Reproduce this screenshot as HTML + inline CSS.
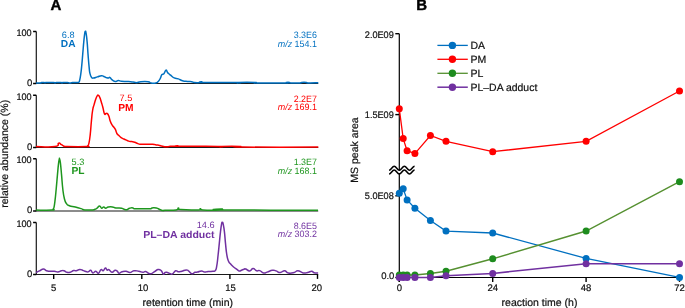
<!DOCTYPE html><html><head><meta charset="utf-8"><style>html,body{margin:0;padding:0;background:#fff;}svg{display:block;font-family:"Liberation Sans",sans-serif;text-rendering:geometricPrecision;}#w{will-change:transform;width:685px;height:308px;overflow:hidden;}</style></head><body>
<div id="w">
<svg width="685" height="308" viewBox="0 0 685 308">
<rect width="685" height="308" fill="#fff"/>
<text x="50.4" y="10.45" font-size="15" font-weight="bold" fill="#000" stroke="#000" stroke-width="0.4">A</text>
<text x="416.3" y="10.45" font-size="15" font-weight="bold" fill="#000" stroke="#000" stroke-width="0.4">B</text>
<path d="M36.3 31.45V83.50H318.2" fill="none" stroke="#1a1a1a" stroke-width="1.2"/>
<path d="M33.1 31.45H36.3M33.1 83.50H36.3" stroke="#000" stroke-width="1.5"/>
<text x="31.6" y="35.65" font-size="9.5" text-anchor="end" fill="#111" textLength="15.2" lengthAdjust="spacingAndGlyphs" stroke="#111" stroke-width="0.2">100</text>
<text x="32.2" y="85.80" font-size="9.5" text-anchor="end" fill="#111" stroke="#111" stroke-width="0.2">0</text>
<path d="M36.00 83.00 C37.20 83.00 39.03 83.13 40.50 83.00 C41.97 82.87 40.57 82.63 41.50 82.50 C42.43 82.37 43.07 82.39 44.00 82.50 C44.93 82.61 44.47 82.90 45.00 82.90 C45.53 82.90 43.73 82.61 46.00 82.50 C48.27 82.39 51.10 82.37 53.50 82.50 C55.90 82.63 54.20 83.00 55.00 83.00 C55.80 83.00 54.90 82.63 56.50 82.50 C58.10 82.37 59.53 82.37 61.00 82.50 C62.47 82.63 61.47 83.00 62.00 83.00 C62.53 83.00 61.53 82.63 63.00 82.50 C64.47 82.37 65.63 82.37 67.50 82.50 C69.37 82.63 68.67 83.00 70.00 83.00 C71.33 83.00 70.63 82.63 72.50 82.50 C74.37 82.37 75.37 82.55 77.00 82.50 C78.63 82.45 77.93 82.73 78.60 82.30 C79.27 81.87 78.94 82.93 79.50 80.90 C80.06 78.87 80.09 78.94 80.70 74.70 C81.31 70.46 81.24 70.71 81.80 65.00 C82.36 59.29 82.27 59.54 82.80 53.30 C83.33 47.06 83.29 46.85 83.80 41.60 C84.31 36.35 84.29 36.35 84.70 33.60 C85.11 30.85 84.98 31.35 85.35 31.30 C85.72 31.25 85.63 30.65 86.10 33.40 C86.57 36.15 86.57 35.79 87.10 41.60 C87.63 47.41 87.57 48.45 88.10 55.20 C88.63 61.95 88.59 61.97 89.10 66.90 C89.61 71.83 89.33 70.90 90.00 73.70 C90.67 76.50 90.67 76.25 91.60 77.40 C92.53 78.55 91.95 78.13 93.50 78.00 C95.05 77.87 95.32 77.51 97.40 76.90 C99.48 76.29 99.73 75.86 101.30 75.70 C102.87 75.54 101.99 75.79 103.30 76.30 C104.61 76.81 104.89 77.15 106.20 77.60 C107.51 78.05 107.21 78.05 108.20 78.00 C109.19 77.95 109.10 77.16 109.90 77.40 C110.70 77.64 110.43 78.10 111.20 78.90 C111.97 79.70 111.71 79.71 112.80 80.40 C113.89 81.09 113.81 81.45 115.30 81.50 C116.79 81.55 116.75 80.65 118.40 80.60 C120.05 80.55 119.31 81.06 121.50 81.30 C123.69 81.54 124.15 81.39 126.60 81.50 C129.05 81.61 128.54 81.49 130.70 81.70 C132.86 81.91 133.02 82.06 134.70 82.30 C136.38 82.54 135.35 82.76 137.00 82.60 C138.65 82.44 137.97 81.94 140.90 81.70 C143.83 81.46 145.28 81.35 148.00 81.70 C150.72 82.05 149.05 82.65 151.10 83.00 C153.15 83.35 153.81 83.40 155.70 83.00 C157.59 82.60 156.97 82.73 158.20 81.50 C159.43 80.27 159.34 80.19 160.30 78.40 C161.26 76.61 160.84 76.03 161.80 74.80 C162.76 73.57 162.81 75.03 163.90 73.80 C164.99 72.57 164.97 70.60 165.90 70.20 C166.83 69.80 166.68 71.42 167.40 72.30 C168.12 73.18 167.75 72.75 168.60 73.50 C169.45 74.25 169.11 73.93 170.60 75.10 C172.09 76.27 172.15 76.89 174.20 77.90 C176.25 78.91 176.11 78.15 178.30 78.90 C180.49 79.65 179.95 80.01 182.40 80.70 C184.85 81.39 185.05 81.23 187.50 81.50 C189.95 81.77 189.71 81.43 191.60 81.70 C193.49 81.97 192.44 82.29 194.60 82.50 C196.76 82.71 197.78 82.71 199.70 82.50 C201.62 82.29 200.71 81.70 201.80 81.70 C202.89 81.70 194.55 82.29 203.80 82.50 C213.05 82.71 227.51 82.39 236.50 82.50 C245.49 82.61 236.83 82.93 237.50 82.90 C238.17 82.87 234.33 82.53 239.00 82.40 C243.67 82.27 250.20 82.27 255.00 82.40 C259.80 82.53 249.00 82.77 257.00 82.90 C265.00 83.03 277.13 83.03 285.00 82.90 C292.87 82.77 285.30 82.53 286.50 82.40 C287.70 82.27 288.30 82.27 289.50 82.40 C290.70 82.53 288.20 82.77 291.00 82.90 C293.80 83.03 297.20 83.03 300.00 82.90 C302.80 82.77 299.77 82.53 301.50 82.40 C303.23 82.27 304.77 82.27 306.50 82.40 C308.23 82.53 304.85 82.79 308.00 82.90 C311.15 83.01 315.55 82.83 318.30 82.80" fill="none" stroke="#0070C0" stroke-width="1.5" stroke-linejoin="round"/>
<text x="68.2" y="37.75" font-size="9.2" text-anchor="middle" fill="#0070C0">6.8</text>
<text x="68.2" y="47.3" font-size="10.2" font-weight="bold" text-anchor="middle" fill="#0070C0">DA</text>
<text x="317.0" y="37.9" font-size="9.2" text-anchor="end" fill="#0070C0" textLength="23.3" lengthAdjust="spacingAndGlyphs">3.3E6</text>
<text x="317.0" y="46.6" font-size="9.2" text-anchor="end" fill="#0070C0" textLength="39.3" lengthAdjust="spacingAndGlyphs"><tspan font-style="italic">m/z</tspan> 154.1</text>
<path d="M36.3 95.30V147.50H318.2" fill="none" stroke="#1a1a1a" stroke-width="1.2"/>
<path d="M33.1 95.30H36.3M33.1 147.50H36.3" stroke="#000" stroke-width="1.5"/>
<text x="31.6" y="99.50" font-size="9.5" text-anchor="end" fill="#111" textLength="15.2" lengthAdjust="spacingAndGlyphs" stroke="#111" stroke-width="0.2">100</text>
<text x="32.2" y="149.80" font-size="9.5" text-anchor="end" fill="#111" stroke="#111" stroke-width="0.2">0</text>
<path d="M36.00 146.60 C41.01 146.60 48.77 147.51 54.80 146.60 C60.83 145.69 56.84 143.71 58.60 143.20 C60.36 142.69 59.91 143.90 61.40 144.70 C62.89 145.50 62.71 145.69 64.20 146.20 C65.69 146.71 61.08 146.49 67.00 146.60 C72.92 146.71 80.91 146.79 86.40 146.60 C91.89 146.41 86.93 146.75 87.60 145.90 C88.27 145.05 88.21 146.36 88.90 143.40 C89.59 140.44 89.53 140.72 90.20 134.80 C90.87 128.88 90.76 127.68 91.40 121.20 C92.04 114.72 91.88 114.93 92.60 110.50 C93.32 106.07 93.27 107.61 94.10 104.60 C94.93 101.59 94.87 101.52 95.70 99.20 C96.53 96.88 96.45 96.94 97.20 95.90 C97.95 94.86 97.75 94.77 98.50 95.30 C99.25 95.83 99.20 95.93 100.00 97.90 C100.80 99.87 100.73 100.14 101.50 102.70 C102.27 105.26 102.10 104.51 102.90 107.50 C103.70 110.49 103.67 112.27 104.50 113.90 C105.33 115.53 105.23 113.68 106.00 113.60 C106.77 113.52 106.63 112.88 107.40 113.60 C108.17 114.32 108.13 114.27 108.90 116.30 C109.67 118.33 109.42 118.85 110.30 121.20 C111.18 123.55 111.16 123.39 112.20 125.10 C113.24 126.81 113.29 126.32 114.20 127.60 C115.11 128.88 115.04 128.73 115.60 129.90 C116.16 131.07 115.87 130.91 116.30 132.00 C116.73 133.09 116.51 133.07 117.20 134.00 C117.89 134.93 117.86 134.54 118.90 135.50 C119.94 136.46 119.79 136.67 121.10 137.60 C122.41 138.53 122.52 138.39 123.80 139.00 C125.08 139.61 124.62 139.34 125.90 139.90 C127.18 140.46 127.08 140.65 128.60 141.10 C130.12 141.55 129.97 141.28 131.60 141.60 C133.23 141.92 133.05 141.77 134.70 142.30 C136.35 142.83 136.28 143.09 137.80 143.60 C139.32 144.11 138.77 144.01 140.40 144.20 C142.03 144.39 140.62 144.27 143.90 144.30 C147.18 144.33 149.42 144.11 152.70 144.30 C155.98 144.49 154.57 144.76 156.20 145.00 C157.83 145.24 157.41 144.93 158.80 145.20 C160.19 145.47 159.29 145.57 161.40 146.00 C163.51 146.43 164.35 146.72 166.70 146.80 C169.05 146.88 167.72 146.43 170.20 146.30 C172.68 146.17 173.97 146.43 176.00 146.30 C178.03 146.17 176.73 145.80 177.80 145.80 C178.87 145.80 169.28 146.14 180.00 146.30 C190.72 146.46 207.28 146.24 218.00 146.40 C228.72 146.56 219.13 146.90 220.20 146.90 C221.27 146.90 216.72 146.53 222.00 146.40 C227.28 146.27 234.53 146.21 240.00 146.40 C245.47 146.59 221.62 146.91 242.50 147.10 C263.38 147.29 298.09 147.10 318.30 147.10" fill="none" stroke="#FF0000" stroke-width="1.5" stroke-linejoin="round"/>
<text x="125.9" y="101.25" font-size="9.2" text-anchor="middle" fill="#FF0000">7.5</text>
<text x="125.9" y="110.7" font-size="10.2" font-weight="bold" text-anchor="middle" fill="#FF0000">PM</text>
<text x="317.0" y="101.5" font-size="9.2" text-anchor="end" fill="#FF0000" textLength="23.3" lengthAdjust="spacingAndGlyphs">2.2E7</text>
<text x="317.0" y="110.0" font-size="9.2" text-anchor="end" fill="#FF0000" textLength="39.3" lengthAdjust="spacingAndGlyphs"><tspan font-style="italic">m/z</tspan> 169.1</text>
<path d="M36.3 158.75V211.00H318.2" fill="none" stroke="#1a1a1a" stroke-width="1.2"/>
<path d="M33.1 158.75H36.3M33.1 211.00H36.3" stroke="#000" stroke-width="1.5"/>
<text x="31.6" y="162.95" font-size="9.5" text-anchor="end" fill="#111" textLength="15.2" lengthAdjust="spacingAndGlyphs" stroke="#111" stroke-width="0.2">100</text>
<text x="32.2" y="213.30" font-size="9.5" text-anchor="end" fill="#111" stroke="#111" stroke-width="0.2">0</text>
<path d="M36.00 210.10 C40.27 210.10 47.41 210.39 52.00 210.10 C56.59 209.81 52.67 209.75 53.20 209.00 C53.73 208.25 53.52 209.51 54.00 207.30 C54.48 205.09 54.41 205.58 55.00 200.70 C55.59 195.82 55.56 195.75 56.20 189.00 C56.84 182.25 56.79 182.09 57.40 175.40 C58.01 168.71 57.99 168.22 58.50 163.90 C59.01 159.58 59.02 160.53 59.30 159.20 C59.58 157.87 59.26 157.91 59.55 158.90 C59.84 159.89 59.85 158.50 60.40 162.90 C60.95 167.30 60.96 168.44 61.60 175.40 C62.24 182.36 62.05 182.76 62.80 189.00 C63.55 195.24 63.41 194.91 64.40 198.80 C65.39 202.69 65.17 201.76 66.50 203.60 C67.83 205.44 67.05 204.79 69.40 205.70 C71.75 206.61 72.18 206.23 75.30 207.00 C78.42 207.77 78.54 207.83 81.10 208.60 C83.66 209.37 81.86 209.55 84.90 209.90 C87.94 210.25 89.81 210.06 92.50 209.90 C95.19 209.74 93.80 209.75 95.00 209.30 C96.20 208.85 95.77 209.11 97.00 208.20 C98.23 207.29 98.37 205.90 99.60 205.90 C100.83 205.90 100.51 207.93 101.60 208.20 C102.69 208.47 102.61 206.90 103.70 206.90 C104.79 206.90 104.47 208.17 105.70 208.20 C106.93 208.23 106.51 207.35 108.30 207.00 C110.09 206.65 110.37 206.66 112.40 206.90 C114.43 207.14 113.45 207.55 115.90 207.90 C118.35 208.25 118.99 207.69 121.60 208.20 C124.21 208.71 123.54 209.80 125.70 209.80 C127.86 209.80 127.81 208.71 129.70 208.20 C131.59 207.69 131.15 207.77 132.80 207.90 C134.45 208.03 131.53 208.49 135.90 208.70 C140.27 208.91 144.85 208.91 149.20 208.70 C153.55 208.49 150.31 208.09 152.20 207.90 C154.09 207.71 154.11 207.49 156.30 208.00 C158.49 208.51 158.61 209.11 160.40 209.80 C162.19 210.49 161.77 210.47 163.00 210.60 C164.23 210.73 161.53 210.49 165.00 210.30 C168.47 210.11 172.43 210.49 176.00 209.90 C179.57 209.31 177.07 208.18 178.40 208.10 C179.73 208.02 175.77 209.12 181.00 209.60 C186.23 210.08 192.83 210.14 198.00 209.90 C203.17 209.66 199.07 208.70 200.40 208.70 C201.73 208.70 197.77 209.58 203.00 209.90 C208.23 210.22 214.85 210.17 220.00 209.90 C225.15 209.63 220.97 208.90 222.30 208.90 C223.63 208.90 199.48 209.55 225.00 209.90 C250.52 210.25 293.20 210.12 318.00 210.20" fill="none" stroke="#1E961E" stroke-width="1.5" stroke-linejoin="round"/>
<text x="78.0" y="165.1" font-size="9.2" text-anchor="middle" fill="#1E961E">5.3</text>
<text x="78.0" y="174.3" font-size="10.2" font-weight="bold" text-anchor="middle" fill="#1E961E">PL</text>
<text x="317.0" y="165.1" font-size="9.2" text-anchor="end" fill="#1E961E" textLength="23.3" lengthAdjust="spacingAndGlyphs">1.3E7</text>
<text x="317.0" y="173.6" font-size="9.2" text-anchor="end" fill="#1E961E" textLength="39.3" lengthAdjust="spacingAndGlyphs"><tspan font-style="italic">m/z</tspan> 168.1</text>
<path d="M36.3 222.45V274.50H318.2" fill="none" stroke="#1a1a1a" stroke-width="1.2"/>
<path d="M33.1 222.45H36.3M33.1 274.50H36.3" stroke="#000" stroke-width="1.5"/>
<text x="31.6" y="226.65" font-size="9.5" text-anchor="end" fill="#111" textLength="15.2" lengthAdjust="spacingAndGlyphs" stroke="#111" stroke-width="0.2">100</text>
<text x="32.2" y="276.80" font-size="9.5" text-anchor="end" fill="#111" stroke="#111" stroke-width="0.2">0</text>
<path d="M36.00 272.50 C36.93 272.07 37.53 271.83 39.50 270.90 C41.47 269.97 41.53 269.03 43.40 269.00 C45.27 268.97 44.74 270.21 46.50 270.80 C48.26 271.39 47.89 271.09 50.00 271.20 C52.11 271.31 52.29 271.01 54.40 271.20 C56.51 271.39 56.03 272.01 57.90 271.90 C59.77 271.79 59.77 271.09 61.40 270.80 C63.03 270.51 62.48 270.40 64.00 270.80 C65.52 271.20 65.45 271.90 67.10 272.30 C68.75 272.70 68.44 272.75 70.20 272.30 C71.96 271.85 72.07 271.00 73.70 270.60 C75.33 270.20 74.67 271.09 76.30 270.80 C77.93 270.51 77.93 269.55 79.80 269.50 C81.67 269.45 81.43 269.99 83.30 270.60 C85.17 271.21 85.39 271.53 86.80 271.80 C88.21 272.07 87.56 272.00 88.60 271.60 C89.64 271.20 89.55 269.93 90.70 270.30 C91.85 270.67 91.54 272.76 92.90 273.00 C94.26 273.24 94.33 271.15 95.80 271.20 C97.27 271.25 97.01 273.60 98.40 273.20 C99.79 272.80 99.72 270.34 101.00 269.70 C102.28 269.06 102.03 271.25 103.20 270.80 C104.37 270.35 104.36 268.19 105.40 268.00 C106.44 267.81 106.17 269.65 107.10 270.10 C108.03 270.55 107.59 269.11 108.90 269.70 C110.21 270.29 110.37 272.14 112.00 272.30 C113.63 272.46 113.61 270.59 115.00 270.30 C116.39 270.01 116.13 270.43 117.20 271.20 C118.27 271.97 117.72 273.04 119.00 273.20 C120.28 273.36 120.13 272.33 122.00 271.80 C123.87 271.27 123.89 271.01 126.00 271.20 C128.11 271.39 127.79 272.61 129.90 272.50 C132.01 272.39 131.55 271.15 133.90 270.80 C136.25 270.45 136.27 270.80 138.70 271.20 C141.13 271.60 141.13 272.19 143.00 272.30 C144.87 272.41 143.81 271.20 145.70 271.60 C147.59 272.00 147.73 273.80 150.10 273.80 C152.47 273.80 152.47 272.75 154.60 271.60 C156.73 270.45 156.34 269.77 158.10 269.50 C159.86 269.23 159.79 269.37 161.20 270.60 C162.61 271.83 162.36 273.59 163.40 274.10 C164.44 274.61 164.06 272.93 165.10 272.50 C166.14 272.07 165.89 272.15 167.30 272.50 C168.71 272.85 168.99 273.45 170.40 273.80 C171.81 274.15 171.21 274.60 172.60 273.80 C173.99 273.00 174.08 271.33 175.60 270.80 C177.12 270.27 176.65 271.69 178.30 271.80 C179.95 271.91 179.69 271.71 181.80 271.20 C183.91 270.69 184.33 269.90 186.20 269.90 C188.07 269.90 187.28 270.16 188.80 271.20 C190.32 272.24 190.27 273.51 191.90 273.80 C193.53 274.09 193.41 272.75 194.90 272.30 C196.39 271.85 195.74 272.47 197.50 272.10 C199.26 271.73 199.61 270.90 201.50 270.90 C203.39 270.90 202.84 271.94 204.60 272.10 C206.36 272.26 205.89 271.71 208.10 271.50 C210.31 271.29 210.95 271.59 212.90 271.30 C214.85 271.01 214.36 271.89 215.40 270.40 C216.44 268.91 216.08 269.81 216.80 265.70 C217.52 261.59 217.43 260.97 218.10 255.00 C218.77 249.03 218.66 249.54 219.30 243.30 C219.94 237.06 219.89 236.77 220.50 231.60 C221.11 226.43 221.12 226.35 221.60 223.90 C222.08 221.45 221.87 222.32 222.30 222.40 C222.73 222.48 222.64 221.75 223.20 224.20 C223.76 226.65 223.79 226.51 224.40 231.60 C225.01 236.69 224.89 237.33 225.50 243.30 C226.11 249.27 225.95 249.33 226.70 254.00 C227.45 258.67 227.31 258.21 228.30 260.80 C229.29 263.39 229.07 262.13 230.40 263.70 C231.73 265.27 231.49 265.13 233.30 266.70 C235.11 268.27 235.63 268.43 237.20 269.60 C238.77 270.77 238.05 270.94 239.20 271.10 C240.35 271.26 240.22 270.71 241.50 270.20 C242.78 269.69 242.88 269.52 244.00 269.20 C245.12 268.88 244.21 268.55 245.70 269.00 C247.19 269.45 247.63 271.01 249.60 270.90 C251.57 270.79 251.23 268.63 253.10 268.60 C254.97 268.57 254.84 270.27 256.60 270.80 C258.36 271.33 257.83 270.01 259.70 270.60 C261.57 271.19 261.60 272.60 263.60 273.00 C265.60 273.40 264.85 272.82 267.20 272.10 C269.55 271.38 270.08 270.62 272.40 270.30 C274.72 269.98 273.79 270.31 275.90 270.90 C278.01 271.49 277.98 272.55 280.30 272.50 C282.62 272.45 282.44 270.57 284.60 270.70 C286.76 270.83 285.84 272.52 288.40 273.00 C290.96 273.48 291.67 273.11 294.20 272.50 C296.73 271.89 295.53 270.59 297.90 270.70 C300.27 270.81 300.51 272.42 303.10 272.90 C305.69 273.38 305.31 272.93 307.60 272.50 C309.89 272.07 309.91 271.22 311.70 271.30 C313.49 271.38 312.59 272.37 314.30 272.80 C316.01 273.23 317.09 272.87 318.10 272.90" fill="none" stroke="#7030A0" stroke-width="1.5" stroke-linejoin="round"/>
<text x="214.6" y="228.4" font-size="9.2" text-anchor="end" fill="#7030A0">14.6</text>
<text x="214.6" y="237.9" font-size="10.2" font-weight="bold" text-anchor="end" fill="#7030A0" textLength="71.4" lengthAdjust="spacingAndGlyphs">PL–DA adduct</text>
<text x="317.0" y="228.5" font-size="9.2" text-anchor="end" fill="#7030A0" textLength="23.3" lengthAdjust="spacingAndGlyphs">8.6E5</text>
<text x="317.0" y="236.9" font-size="9.2" text-anchor="end" fill="#7030A0" textLength="39.3" lengthAdjust="spacingAndGlyphs"><tspan font-style="italic">m/z</tspan> 303.2</text>
<path d="M53.7 274.50V278.9" stroke="#000" stroke-width="1.4"/>
<text x="53.7" y="290.6" font-size="9.5" text-anchor="middle" fill="#111" stroke="#111" stroke-width="0.2">5</text>
<path d="M141.8 274.50V278.9" stroke="#000" stroke-width="1.4"/>
<text x="143.0" y="290.6" font-size="9.5" text-anchor="middle" fill="#111" stroke="#111" stroke-width="0.2">10</text>
<path d="M229.9 274.50V278.9" stroke="#000" stroke-width="1.4"/>
<text x="230.6" y="290.6" font-size="9.5" text-anchor="middle" fill="#111" stroke="#111" stroke-width="0.2">15</text>
<path d="M317.5 274.50V278.9" stroke="#000" stroke-width="1.4"/>
<text x="316.7" y="290.6" font-size="9.5" text-anchor="middle" fill="#111" stroke="#111" stroke-width="0.2">20</text>
<text x="187.8" y="306.0" font-size="10.5" text-anchor="middle" fill="#111" stroke="#111" stroke-width="0.2">retention time (min)</text>
<text transform="translate(7.6 153.8) rotate(-90)" font-size="10.5" text-anchor="middle" fill="#111" stroke="#111" stroke-width="0.2">relative abundance (%)</text>
<path d="M399.3 33.7V171M399.3 173V281.9" stroke="#000" stroke-width="1.2" fill="none"/>
<path d="M399.3 277.5H679.5" stroke="#000" stroke-width="1.2" fill="none"/>
<path d="M395.3 33.7H399.3" stroke="#000" stroke-width="1.4"/>
<text x="393.8" y="37.9" font-size="9.5" text-anchor="end" fill="#111" textLength="29.0" lengthAdjust="spacingAndGlyphs" stroke="#111" stroke-width="0.2">2.0E09</text>
<path d="M395.3 114.6H399.3" stroke="#000" stroke-width="1.4"/>
<text x="393.8" y="117.9" font-size="9.5" text-anchor="end" fill="#111" textLength="29.0" lengthAdjust="spacingAndGlyphs" stroke="#111" stroke-width="0.2">1.5E09</text>
<path d="M395.3 195.8H399.3" stroke="#000" stroke-width="1.4"/>
<text x="393.8" y="198.6" font-size="9.5" text-anchor="end" fill="#111" textLength="29.0" lengthAdjust="spacingAndGlyphs" stroke="#111" stroke-width="0.2">5.0E08</text>
<path d="M395.3 277.5H399.3" stroke="#000" stroke-width="1.4"/>
<text x="394.40000000000003" y="278.7" font-size="9.5" text-anchor="end" fill="#111" stroke="#111" stroke-width="0.2">0.0</text>
<path d="M399.3 277.5V281.9" stroke="#000" stroke-width="1.4"/>
<text x="399.3" y="290.7" font-size="9.5" text-anchor="middle" fill="#111" stroke="#111" stroke-width="0.2">0</text>
<path d="M492.7 277.5V281.9" stroke="#000" stroke-width="1.4"/>
<text x="492.7" y="290.7" font-size="9.5" text-anchor="middle" fill="#111" stroke="#111" stroke-width="0.2">24</text>
<path d="M586.1 277.5V281.9" stroke="#000" stroke-width="1.4"/>
<text x="586.1" y="290.7" font-size="9.5" text-anchor="middle" fill="#111" stroke="#111" stroke-width="0.2">48</text>
<path d="M679.5 277.5V281.9" stroke="#000" stroke-width="1.4"/>
<text x="679.5" y="290.7" font-size="9.5" text-anchor="middle" fill="#111" stroke="#111" stroke-width="0.2">72</text>
<text x="539.5" y="306.0" font-size="10.5" text-anchor="middle" fill="#111" stroke="#111" stroke-width="0.2">reaction time (h)</text>
<text transform="translate(358.2 150) rotate(-90)" font-size="10.5" text-anchor="middle" fill="#111" stroke="#111" stroke-width="0.2">MS peak area</text>
<path d="M389.1 170.6 C391.14 170.60 392.16 166.50 394.20 166.50 C396.24 166.50 397.26 170.60 399.30 170.60 C401.34 170.60 402.36 166.50 404.40 166.50 C406.44 166.50 407.46 170.60 409.50 170.60 C411.54 170.60 412.56 166.50 414.60 166.50 L414.6 170.0 L389.1 174.0 Z" fill="#fff" stroke="none"/>
<path d="M389.1 170.3 C391.14 170.30 392.16 166.20 394.20 166.20 C396.24 166.20 397.26 170.30 399.30 170.30 C401.34 170.30 402.36 166.20 404.40 166.20 C406.44 166.20 407.46 170.30 409.50 170.30 C411.54 170.30 412.56 166.20 414.60 166.20" fill="none" stroke="#000" stroke-width="1.5"/>
<path d="M389.1 174.1 C391.14 174.10 392.16 170.00 394.20 170.00 C396.24 170.00 397.26 174.10 399.30 174.10 C401.34 174.10 402.36 170.00 404.40 170.00 C406.44 170.00 407.46 174.10 409.50 174.10 C411.54 174.10 412.56 170.00 414.60 170.00" fill="none" stroke="#000" stroke-width="1.5"/>
<polyline points="399.3,108.8 403.2,138.6 407.1,150.7 414.9,153.6 430.4,135.5 446.0,141.3 492.7,151.7 586.1,141.3 679.5,91.0" fill="none" stroke="#FF0000" stroke-width="1.3"/>
<circle cx="399.3" cy="108.8" r="3.5" fill="#FF0000"/>
<circle cx="403.2" cy="138.6" r="3.5" fill="#FF0000"/>
<circle cx="407.1" cy="150.7" r="3.5" fill="#FF0000"/>
<circle cx="414.9" cy="153.6" r="3.5" fill="#FF0000"/>
<circle cx="430.4" cy="135.5" r="3.5" fill="#FF0000"/>
<circle cx="446.0" cy="141.3" r="3.5" fill="#FF0000"/>
<circle cx="492.7" cy="151.7" r="3.5" fill="#FF0000"/>
<circle cx="586.1" cy="141.3" r="3.5" fill="#FF0000"/>
<circle cx="679.5" cy="91.0" r="3.5" fill="#FF0000"/>
<polyline points="399.3,193.2 403.2,188.8 407.1,199.9 414.9,208.2 430.4,220.5 446.0,231.1 492.7,233.0 586.1,258.4 679.5,277.4" fill="none" stroke="#0070C0" stroke-width="1.3"/>
<circle cx="399.3" cy="193.2" r="3.5" fill="#0070C0"/>
<circle cx="403.2" cy="188.8" r="3.5" fill="#0070C0"/>
<circle cx="407.1" cy="199.9" r="3.5" fill="#0070C0"/>
<circle cx="414.9" cy="208.2" r="3.5" fill="#0070C0"/>
<circle cx="430.4" cy="220.5" r="3.5" fill="#0070C0"/>
<circle cx="446.0" cy="231.1" r="3.5" fill="#0070C0"/>
<circle cx="492.7" cy="233.0" r="3.5" fill="#0070C0"/>
<circle cx="586.1" cy="258.4" r="3.5" fill="#0070C0"/>
<circle cx="679.5" cy="277.4" r="3.5" fill="#0070C0"/>
<polyline points="399.3,275.0 403.2,275.0 407.1,275.0 414.9,275.0 430.4,273.5 446.0,271.3 492.7,258.8 586.1,231.0 679.5,181.7" fill="none" stroke="#559030" stroke-width="1.4"/>
<circle cx="399.3" cy="275.0" r="3.5" fill="#1E8C1E"/>
<circle cx="403.2" cy="275.0" r="3.5" fill="#1E8C1E"/>
<circle cx="407.1" cy="275.0" r="3.5" fill="#1E8C1E"/>
<circle cx="414.9" cy="275.0" r="3.5" fill="#1E8C1E"/>
<circle cx="430.4" cy="273.5" r="3.5" fill="#1E8C1E"/>
<circle cx="446.0" cy="271.3" r="3.5" fill="#1E8C1E"/>
<circle cx="492.7" cy="258.8" r="3.5" fill="#1E8C1E"/>
<circle cx="586.1" cy="231.0" r="3.5" fill="#1E8C1E"/>
<circle cx="679.5" cy="181.7" r="3.5" fill="#1E8C1E"/>
<polyline points="399.3,277.4 403.2,277.4 407.1,277.4 414.9,277.4 430.4,277.4 446.0,275.7 492.7,273.4 586.1,263.8 679.5,263.8" fill="none" stroke="#7030A0" stroke-width="1.5"/>
<circle cx="399.3" cy="277.4" r="3.5" fill="#7030A0"/>
<circle cx="403.2" cy="277.4" r="3.5" fill="#7030A0"/>
<circle cx="407.1" cy="277.4" r="3.5" fill="#7030A0"/>
<circle cx="414.9" cy="277.4" r="3.5" fill="#7030A0"/>
<circle cx="430.4" cy="277.4" r="3.5" fill="#7030A0"/>
<circle cx="446.0" cy="275.7" r="3.5" fill="#7030A0"/>
<circle cx="492.7" cy="273.4" r="3.5" fill="#7030A0"/>
<circle cx="586.1" cy="263.8" r="3.5" fill="#7030A0"/>
<circle cx="679.5" cy="263.8" r="3.5" fill="#7030A0"/>
<path d="M437.4 45.4H467.8" stroke="#0070C0" stroke-width="1.3"/>
<circle cx="452.4" cy="45.4" r="3.7" fill="#0070C0"/>
<text x="470.5" y="48.7" font-size="10.5" fill="#111" stroke="#111" stroke-width="0.2">DA</text>
<path d="M437.4 59.3H467.8" stroke="#FF0000" stroke-width="1.3"/>
<circle cx="452.4" cy="59.3" r="3.7" fill="#FF0000"/>
<text x="470.5" y="62.6" font-size="10.5" fill="#111" stroke="#111" stroke-width="0.2">PM</text>
<path d="M437.4 73.3H467.8" stroke="#559030" stroke-width="1.3"/>
<circle cx="452.4" cy="73.3" r="3.7" fill="#1E8C1E"/>
<text x="470.5" y="76.6" font-size="10.5" fill="#111" stroke="#111" stroke-width="0.2">PL</text>
<path d="M437.4 87.2H467.8" stroke="#7030A0" stroke-width="1.5"/>
<circle cx="452.4" cy="87.2" r="3.7" fill="#7030A0"/>
<text x="470.5" y="90.5" font-size="10.5" fill="#111" textLength="66.8" lengthAdjust="spacingAndGlyphs" stroke="#111" stroke-width="0.2">PL–DA adduct</text>
</svg></div></body></html>
